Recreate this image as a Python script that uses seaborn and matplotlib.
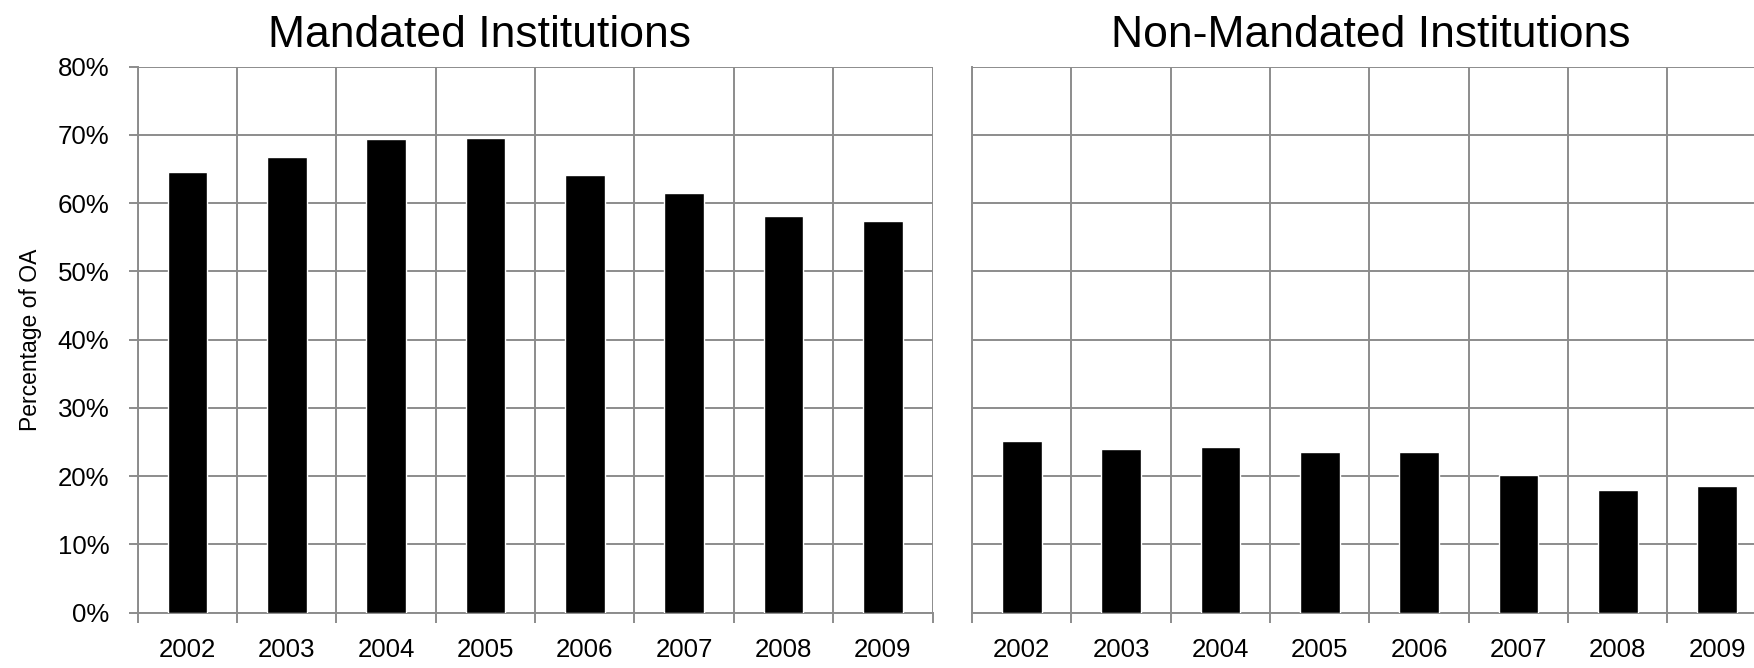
import matplotlib
matplotlib.use('Agg')
import matplotlib.pyplot as plt
import seaborn as sns
import pandas as pd
import numpy as np
from matplotlib.ticker import FixedLocator, PercentFormatter

years = ['2002', '2003', '2004', '2005', '2006', '2007', '2008', '2009']
mandated = [64.5, 66.8, 69.4, 69.5, 64.1, 61.5, 58.1, 57.4]
non_mandated = [25.2, 24.0, 24.3, 23.5, 23.6, 20.1, 17.9, 18.5]
titles = ['Mandated Institutions', 'Non-Mandated Institutions']
ylabel = 'Percentage of OA'

sns.set_theme(style='white')
plt.rcParams['font.family'] = ['Liberation Sans', 'DejaVu Sans']
tick_fs = 18.6
lab_fs = 16.5
title_fs = 32

GRID = '#8c8c8c'
W, H = 1754, 668
fig = plt.figure(figsize=(W / 100, H / 100), dpi=100)

def px_axes(x0, x1, ytop, ybot):
    return fig.add_axes([x0 / W, 1 - ybot / H, (x1 - x0) / W, (ybot - ytop) / H])

ax1 = px_axes(137.7, 932.5, 66.5, 612.7)
ax2 = px_axes(972.0, 972.0 + (932.5 - 137.7), 66.5, 612.7)

for ax, vals in ((ax1, mandated), (ax2, non_mandated)):
    df = pd.DataFrame({'year': years, 'value': vals})
    sns.barplot(data=df, x='year', y='value', color='black', saturation=1,
                width=0.4, ax=ax, zorder=3)
    ax.set_xlim(-0.5, 7.5)
    ax.set_ylim(0, 80)
    ax.set_yticks(np.arange(0, 81, 10))
    ax.yaxis.set_major_formatter(PercentFormatter(decimals=0))
    ax.xaxis.set_minor_locator(FixedLocator(np.arange(-0.5, 8, 1)))
    ax.set_axisbelow(True)
    ax.grid(True, which='major', axis='y', color=GRID, lw=1.4, zorder=0)
    ax.grid(True, which='minor', axis='x', color=GRID, lw=1.4, zorder=0)
    ax.grid(False, which='major', axis='x')
    ax.tick_params(axis='x', which='major', length=0, pad=18, labelsize=tick_fs, colors='black')
    ax.tick_params(axis='x', which='minor', length=7, width=1.4, color=GRID, direction='out', bottom=True)
    ax.set_xlabel('')
    ax.set_ylabel('')
    for s in ('top', 'right'):
        ax.spines[s].set_visible(False)
    for s in ('left', 'bottom'):
        ax.spines[s].set_color(GRID)
        ax.spines[s].set_linewidth(1.4)
    ax.set_facecolor('white')

ax1.tick_params(axis='y', length=6.5, width=1.4, color=GRID, direction='out', left=True,
                pad=14, labelsize=tick_fs, labelcolor='black')
ax2.tick_params(axis='y', length=0, labelleft=False)

fig.text(480 / W, 1 - 47 / H, titles[0], ha='center', va='baseline', fontsize=title_fs, color='black')
fig.text(1370.5 / W, 1 - 47 / H, titles[1], ha='center', va='baseline', fontsize=title_fs, color='black')
fig.text(31 / W, 1 - 340 / H, ylabel, rotation=90, ha='center', va='center', fontsize=lab_fs, color='black')

fig.savefig('out.png', dpi=100, facecolor='white')
